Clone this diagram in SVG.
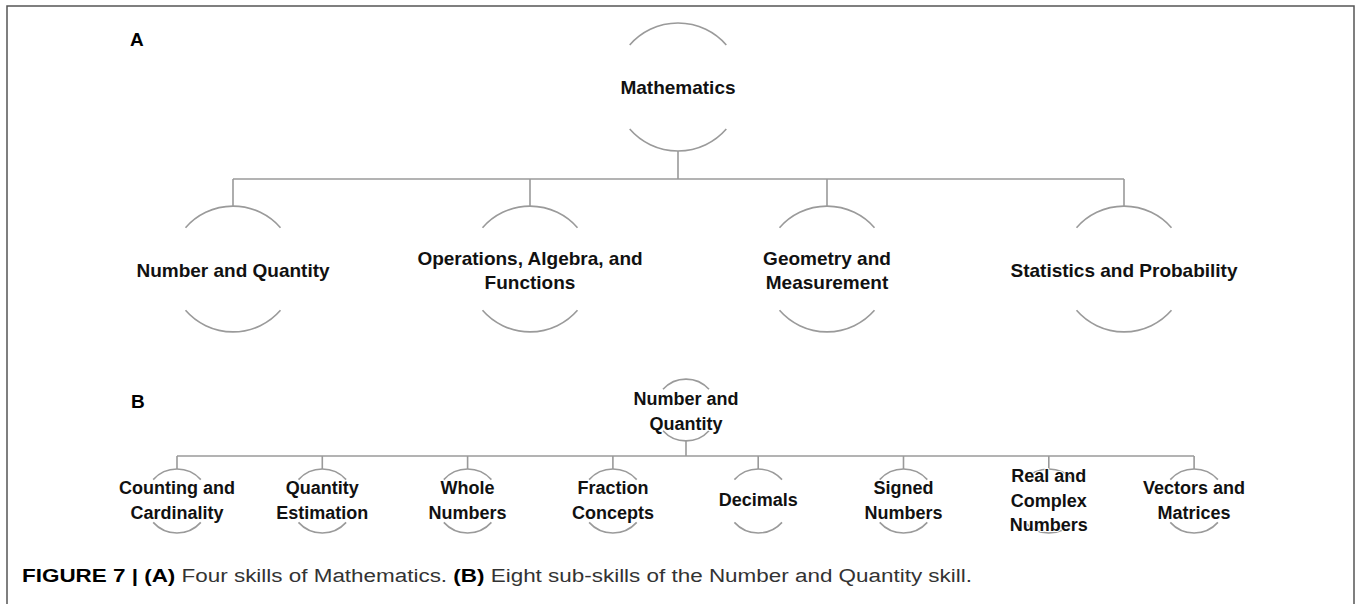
<svg xmlns="http://www.w3.org/2000/svg" width="1357" height="604" viewBox="0 0 1357 604">
  <style>
    .frame { fill: none; stroke: #555; stroke-width: 1.5; }
    .link { fill: none; stroke: #9a9a9a; stroke-width: 1.6; }
    .arc { fill: none; stroke: #9a9a9a; stroke-width: 1.6; }
    .lbl { font-family: "Liberation Sans", Arial, sans-serif; font-weight: bold; fill: #111; text-anchor: middle;
           stroke: #fff; stroke-width: 2; paint-order: stroke; stroke-linejoin: round; }
    .big { font-size: 19px; }
    .small { font-size: 18px; }
    .panel { font-family: "Liberation Sans", Arial, sans-serif; font-weight: bold; font-size: 19px; fill: #000; }
    .cap { font-family: "Liberation Sans", Arial, sans-serif; font-size: 18px; fill: #333; }
    .capb { font-weight: bold; fill: #000; }
  </style>

  <rect width="1357" height="604" fill="#fff"/>

  <!-- figure frame -->
  <path class="frame" d="M7,604 V6 H1354 V604"/>

  <!-- panel letters -->
  <text class="panel" x="130" y="46">A</text>
  <text class="panel" x="131" y="408">B</text>

  <!-- connectors -->
  <g id="connectors">
    <!-- panel A -->
    <path class="link" d="M678,151 V179 M233,179 H1124 M233,179 V206 M530,179 V206 M827,179 V206 M1124,179 V206"/>
    <!-- panel B -->
    <path class="link" d="M686,441 V456 M177,456 H1194
      M177,456 V469 M322.3,456 V469 M467.6,456 V469 M612.9,456 V469
      M758.2,456 V469 M903.5,456 V469 M1048.8,456 V469 M1194.1,456 V469"/>
  </g>

  <!-- panel A nodes: circle r=64 shown as top and bottom arcs -->
  <g id="node-mathematics">
    <path class="arc" d="M629.7,45 A64,64 0 0 1 726.3,45 M629.7,129 A64,64 0 0 0 726.3,129"/>
    <text class="lbl big" x="678" y="94">Mathematics</text>
  </g>

  <g id="node-number-quantity">
    <path class="arc" d="M185.5,227.7 A63,63 0 0 1 280.5,227.7 M185.5,310.3 A63,63 0 0 0 280.5,310.3"/>
    <text class="lbl big" x="233" y="277">Number and Quantity</text>
  </g>

  <g id="node-operations">
    <path class="arc" d="M482.5,227.7 A63,63 0 0 1 577.5,227.7 M482.5,310.3 A63,63 0 0 0 577.5,310.3"/>
    <text class="lbl big" x="530" y="265">Operations, Algebra, and</text>
    <text class="lbl big" x="530" y="289">Functions</text>
  </g>

  <g id="node-geometry">
    <path class="arc" d="M779.5,227.7 A63,63 0 0 1 874.5,227.7 M779.5,310.3 A63,63 0 0 0 874.5,310.3"/>
    <text class="lbl big" x="827" y="265">Geometry and</text>
    <text class="lbl big" x="827" y="289">Measurement</text>
  </g>

  <g id="node-statistics">
    <path class="arc" d="M1076.5,227.7 A63,63 0 0 1 1171.5,227.7 M1076.5,310.3 A63,63 0 0 0 1171.5,310.3"/>
    <text class="lbl big" x="1124" y="277">Statistics and Probability</text>
  </g>

  <!-- panel B nodes: circle r=32 (root r=31) shown as top and bottom arcs -->
  <g id="node-b-number-quantity">
    <path class="arc" d="M663,389.3 A31,31 0 0 1 709,389.3 M663,430.7 A31,31 0 0 0 709,430.7"/>
    <text class="lbl small" x="686" y="405">Number and</text>
    <text class="lbl small" x="686" y="430">Quantity</text>
  </g>

  <g id="node-counting">
    <path class="arc" d="M153.2,479.6 A32,32 0 0 1 200.8,479.6 M153.2,522.4 A32,32 0 0 0 200.8,522.4"/>
    <text class="lbl small" x="177" y="494">Counting and</text>
    <text class="lbl small" x="177" y="519">Cardinality</text>
  </g>

  <g id="node-estimation">
    <path class="arc" d="M298.5,479.6 A32,32 0 0 1 346.1,479.6 M298.5,522.4 A32,32 0 0 0 346.1,522.4"/>
    <text class="lbl small" x="322.3" y="494">Quantity</text>
    <text class="lbl small" x="322.3" y="519">Estimation</text>
  </g>

  <g id="node-whole">
    <path class="arc" d="M443.8,479.6 A32,32 0 0 1 491.4,479.6 M443.8,522.4 A32,32 0 0 0 491.4,522.4"/>
    <text class="lbl small" x="467.6" y="494">Whole</text>
    <text class="lbl small" x="467.6" y="519">Numbers</text>
  </g>

  <g id="node-fraction">
    <path class="arc" d="M589.1,479.6 A32,32 0 0 1 636.7,479.6 M589.1,522.4 A32,32 0 0 0 636.7,522.4"/>
    <text class="lbl small" x="612.9" y="494">Fraction</text>
    <text class="lbl small" x="612.9" y="519">Concepts</text>
  </g>

  <g id="node-decimals">
    <path class="arc" d="M734.4,479.6 A32,32 0 0 1 782,479.6 M734.4,522.4 A32,32 0 0 0 782,522.4"/>
    <text class="lbl small" x="758.2" y="506">Decimals</text>
  </g>

  <g id="node-signed">
    <path class="arc" d="M879.7,479.6 A32,32 0 0 1 927.3,479.6 M879.7,522.4 A32,32 0 0 0 927.3,522.4"/>
    <text class="lbl small" x="903.5" y="494">Signed</text>
    <text class="lbl small" x="903.5" y="519">Numbers</text>
  </g>

  <g id="node-real-complex">
    <path class="arc" d="M1025,479.6 A32,32 0 0 1 1072.6,479.6 M1025,522.4 A32,32 0 0 0 1072.6,522.4"/>
    <text class="lbl small" x="1048.8" y="482">Real and</text>
    <text class="lbl small" x="1048.8" y="507">Complex</text>
    <text class="lbl small" x="1048.8" y="531">Numbers</text>
  </g>

  <g id="node-vectors">
    <path class="arc" d="M1170.3,479.6 A32,32 0 0 1 1217.9,479.6 M1170.3,522.4 A32,32 0 0 0 1217.9,522.4"/>
    <text class="lbl small" x="1194.1" y="494">Vectors and</text>
    <text class="lbl small" x="1194.1" y="519">Matrices</text>
  </g>

  <!-- caption -->
  <text class="cap" x="22" y="582" textLength="950" lengthAdjust="spacingAndGlyphs"><tspan class="capb">FIGURE 7 | (A)</tspan> Four skills of Mathematics. <tspan class="capb">(B)</tspan> Eight sub-skills of the Number and Quantity skill.</text>
</svg>
